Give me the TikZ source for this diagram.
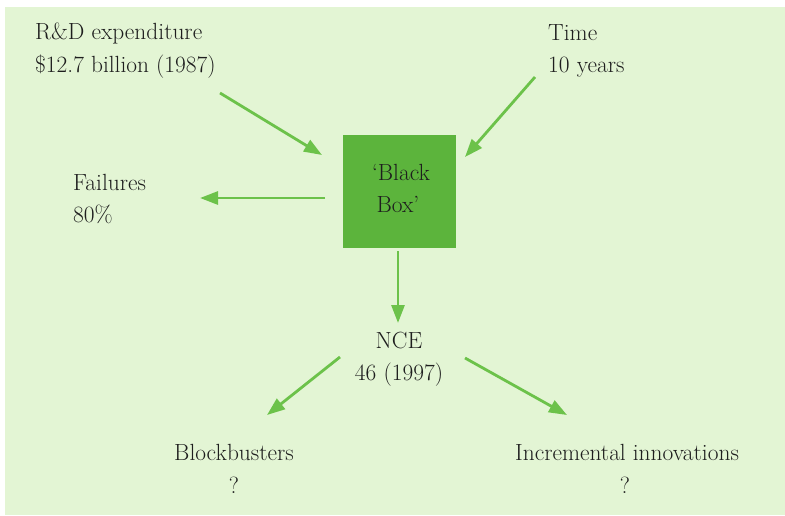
\documentclass[tikz,border=0pt]{standalone}
\usepackage{fontspec}
\setmainfont{Latin Modern Roman}
\usetikzlibrary{arrows.meta}
\definecolor{bgcol}{HTML}{E3F5D4}
\definecolor{boxcol}{HTML}{5CB43C}
\definecolor{arrcol}{HTML}{6CC24A}
\definecolor{txtcol}{HTML}{1E1E1E}
\tikzset{
  lbl/.style={inner sep=0pt, text=txtcol, font=\fontsize{23.4}{33}\selectfont},
  flow/.style={draw=arrcol, line width=2.8pt, -{Triangle[length=18pt,width=13pt]}},
  blackbox/.style={fill=boxcol, draw=none, minimum width=113pt, minimum height=113pt, inner sep=0pt}
}
\begin{document}
\begin{tikzpicture}[x=1pt,y=-1pt]
\useasboundingbox (0,0) rectangle (785,515);
\fill[bgcol] (5,7) rectangle (785,515);
% black box
\node[blackbox] (bb) at (399.5,191.5) {};
\node[lbl,anchor=base] (bb1) at (401,180) {‘Black};
\node[lbl,anchor=base] (bb2) at (398,212) {Box’};
% labels
\node[lbl,anchor=base west] (rd1) at (35,39) {R\&D expenditure};
\node[lbl,anchor=base west] (rd2) at (35,72) {\$12.7 billion (1987)};
\node[lbl,anchor=base west] (t1) at (548,40) {Time};
\node[lbl,anchor=base west] (t2) at (548,72) {10 years};
\node[lbl,anchor=base west] (f1) at (73,190) {Failures};
\node[lbl,anchor=base west] (f2) at (73,222) {80\%};
\node[lbl,anchor=base] (n1) at (399,348) {NCE};
\node[lbl,anchor=base] (n2) at (399,380) {46 (1997)};
\node[lbl,anchor=base] (b1) at (234,460) {Blockbusters};
\node[lbl,anchor=base] (b2) at (234,493) {?};
\node[lbl,anchor=base] (i1) at (627,460) {Incremental innovations};
\node[lbl,anchor=base] (i2) at (625,493) {?};
% arrow end points
\coordinate (a1s) at (220,93);  \coordinate (a1e) at (322,155);
\coordinate (a2s) at (535,77);  \coordinate (a2e) at (465,157);
\coordinate (a3s) at (325,198); \coordinate (a3e) at (200,198);
\coordinate (a4s) at (398,251); \coordinate (a4e) at (398,323);
\coordinate (a5s) at (340,357); \coordinate (a5e) at (267,415);
\coordinate (a6s) at (465,358); \coordinate (a6e) at (567,415);
\draw[flow] (a1s) -- (a1e);
\draw[flow] (a2s) -- (a2e);
\draw[flow] (a3s) -- (a3e);
\draw[flow] (a4s) -- (a4e);
\draw[flow] (a5s) -- (a5e);
\draw[flow] (a6s) -- (a6e);
\end{tikzpicture}
\end{document}
